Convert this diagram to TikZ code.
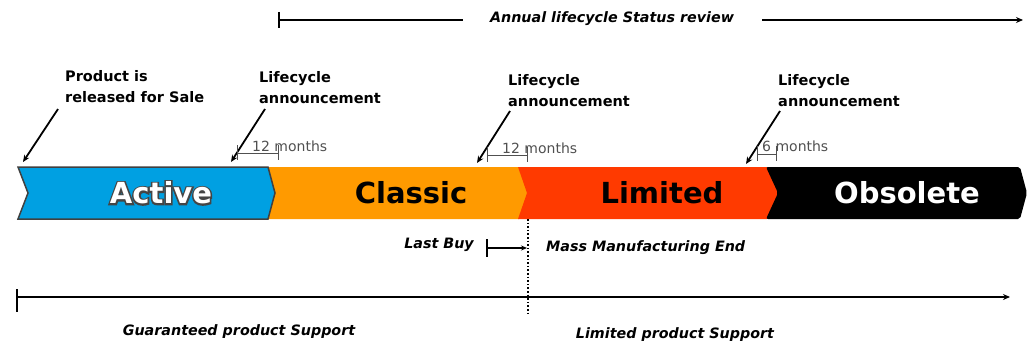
\documentclass[tikz,border=0pt]{standalone}
\usepackage{fontspec}
\setmainfont{DejaVu Sans}
\usetikzlibrary{arrows.meta,calc}
\definecolor{actblue}{RGB}{0,160,226}
\definecolor{clsorange}{RGB}{255,154,0}
\definecolor{limred}{RGB}{255,58,0}
\definecolor{dimgray}{RGB}{80,80,80}
\begin{document}
\begin{tikzpicture}[x=1pt,y=-1pt,
  lbl/.style={font=\fontsize{14.5}{20.5}\selectfont\bfseries, align=left, anchor=base west, inner sep=0pt},
  ilbl/.style={font=\fontsize{14.3}{16}\selectfont\bfseries\itshape, inner sep=0pt},
  dimtxt/.style={font=\fontsize{14}{16}\selectfont, text=dimgray, anchor=west, inner sep=0pt},
  stage/.style={font=\fontsize{29}{32}\selectfont\bfseries, inner sep=0pt},
  callout/.style={line width=1.8pt, -{Stealth[length=7pt,width=6pt]}},
  dimline/.style={draw=dimgray, line width=0.9pt},
  axis/.style={line width=1.6pt},
]
\useasboundingbox (0,0) rectangle (1027,345);

% top review line
\node[ilbl] (review) at (612,19) {Annual lifecycle Status review};
\coordinate (rtop1) at (279,12); \coordinate (rbot1) at (279,28);
\coordinate (rs) at (279,20); \coordinate (re1) at (463,20);
\coordinate (rs2) at (762,20); \coordinate (re2) at (1023,20);
\draw[axis] (rtop1) -- (rbot1);
\draw[axis] (rs) -- (re1);
\draw[axis,-{Stealth[length=7pt,width=6pt]}] (rs2) -- (re2);

% stage bar
\fill[clsorange] (268,167) -- (519,167) -- (528,193) -- (519,219) -- (268,219) -- (275,193) -- cycle;
\fill[limred] (518,167) -- (767,167) -- (779,193) -- (767,219) -- (518,219) -- (527,193) -- cycle;
\fill[black, rounded corners=2pt] (766,167) -- (1020,167) -- (1027,193) -- (1020,219) -- (766,219) -- (778,193) -- cycle;
\filldraw[fill=actblue, draw=black!75, line width=1.5pt] (18,167) -- (268,167) -- (275,193) -- (268,219) -- (18,219) -- (28,193) -- cycle;

\node[stage, text=black] (classic) at (411,193) {Classic};
\node[stage, text=black] (limited) at (662,193) {Limited};
\node[stage, text=white] (obsolete) at (907,193) {Obsolete};

% callouts
\node[lbl] (release) at (65,102) {Product is\\released for Sale};
\node[lbl] (ann1) at (259,103) {Lifecycle\\announcement};
\node[lbl] (ann2) at (508,106) {Lifecycle\\announcement};
\node[lbl] (ann3) at (778,106) {Lifecycle\\announcement};
\coordinate (c0s) at (58,109); \coordinate (c0e) at (23,162);
\coordinate (c1s) at (265,109); \coordinate (c1e) at (231,162);
\coordinate (c2s) at (510,111); \coordinate (c2e) at (477,163);
\coordinate (c3s) at (780,111); \coordinate (c3e) at (746,164);
\draw[callout] (c0s) -- (c0e);
\draw[callout] (c1s) -- (c1e);
\draw[callout] (c2s) -- (c2e);
\draw[callout] (c3s) -- (c3e);

% dimension brackets
\node[dimtxt] (m1) at (252,146) {12 months};
\node[dimtxt] (m2) at (502,148) {12 months};
\node[dimtxt] (m3) at (762,146) {6 months};
\draw[dimline] (237,145) -- (237,160) (278,145) -- (278,160) (237,153) -- (278,153);
\draw[dimline] (487,147) -- (487,162) (527,147) -- (527,162) (487,155) -- (527,155);
\draw[dimline] (757,146) -- (757,161) (776,146) -- (776,161) (757,154) -- (776,154);

% last buy / mass manufacturing end
\node[ilbl, anchor=east] (lastbuy) at (474,245) {Last Buy};
\node[ilbl, anchor=west] (mme) at (546,248) {Mass Manufacturing End};
\coordinate (lbt1) at (487,239); \coordinate (lbt2) at (487,257);
\coordinate (lbs) at (487,248); \coordinate (lbe) at (527,248);
\draw[line width=1.3pt] (lbt1) -- (lbt2);
\draw[line width=1.3pt, -{Stealth[length=6pt,width=5pt]}] (lbs) -- (lbe);
\coordinate (dtop) at (528,219); \coordinate (dbot) at (528,314);
\draw[line width=1.6pt, dotted] (dtop) -- (dbot);

% support axis
\coordinate (st1) at (17,289); \coordinate (st2) at (17,312);
\coordinate (ss) at (17,297); \coordinate (se) at (1010,297);
\draw[axis] (st1) -- (st2);
\draw[axis, -{Stealth[length=7pt,width=6pt]}] (ss) -- (se);
\node[ilbl] (guar) at (239,332) {Guaranteed product Support};
\node[ilbl] (limsup) at (675,335) {Limited product Support};

% outlined white "Active" (fill + stroke render mode)
\node[stage, text=white] (active) at (161,193) {\special{pdf:literal direct 2 Tr 3.2 w 0.27 G 0.27 g}Active\special{pdf:literal direct 0 Tr 1 g 1 G 0.4 w}\llap{Active}};
\end{tikzpicture}
\end{document}
